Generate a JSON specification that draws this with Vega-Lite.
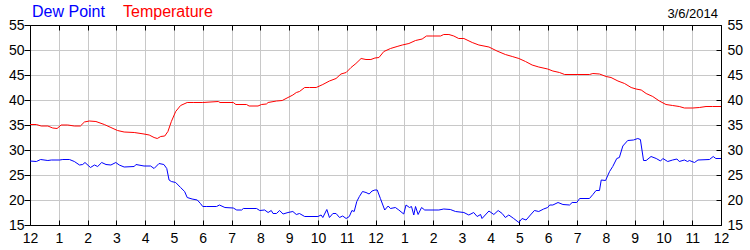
{
  "$schema": "https://vega.github.io/schema/vega-lite/v6.json",
  "autosize": {"type": "none"},
  "width": 691,
  "height": 200,
  "padding": {"left": 30, "top": 25, "right": 29, "bottom": 25},
  "background": "white",
  "config": {
    "view": {"stroke": null},
    "font": "Liberation Sans",
    "axis": {"labelFont": "Liberation Sans", "labelFontSize": 14, "labelColor": "#000000", "domainColor": "#000000", "domainWidth": 1, "tickColor": "#000000", "tickWidth": 1, "gridColor": "#c8c8c8", "gridWidth": 1, "title": null, "labelFlush": false, "labelOverlap": false}
  },
  "title": {"text": "3/6/2014", "anchor": "end", "frame": "group", "font": "Liberation Sans", "fontSize": 13, "fontWeight": "normal", "color": "#000000", "baseline": "alphabetic", "offset": 8, "dx": -3, "dy": 35},
  "datasets": {
    "temp": [
      {"h":0,"v":35.1},{"h":0.22,"v":35.1},{"h":0.39,"v":34.8},{"h":0.62,"v":34.8},{"h":0.79,"v":34.4},{"h":0.94,"v":34.3},{"h":1.08,"v":35.0},{"h":1.31,"v":35.0},{"h":1.54,"v":34.8},{"h":1.75,"v":34.8},{"h":1.89,"v":35.6},{"h":2.06,"v":35.8},{"h":2.29,"v":35.7},{"h":2.58,"v":35.1},{"h":2.81,"v":34.5},{"h":3.04,"v":33.9},{"h":3.27,"v":33.6},{"h":3.62,"v":33.5},{"h":3.96,"v":33.2},{"h":4.14,"v":33.0},{"h":4.31,"v":32.5},{"h":4.42,"v":32.3},{"h":4.54,"v":32.7},{"h":4.68,"v":32.8},{"h":4.79,"v":33.7},{"h":4.91,"v":35.7},{"h":5.06,"v":37.7},{"h":5.23,"v":38.9},{"h":5.46,"v":39.5},{"h":5.69,"v":39.5},{"h":6.0,"v":39.5},{"h":6.54,"v":39.7},{"h":6.6,"v":39.5},{"h":7.06,"v":39.5},{"h":7.15,"v":39.1},{"h":7.52,"v":39.1},{"h":7.61,"v":38.8},{"h":7.92,"v":38.8},{"h":8.04,"v":39.1},{"h":8.21,"v":39.2},{"h":8.27,"v":39.5},{"h":8.56,"v":39.8},{"h":8.76,"v":39.9},{"h":8.96,"v":40.5},{"h":9.13,"v":41.0},{"h":9.25,"v":41.5},{"h":9.36,"v":41.7},{"h":9.54,"v":42.5},{"h":9.71,"v":42.5},{"h":9.94,"v":42.5},{"h":10.17,"v":43.1},{"h":10.4,"v":43.8},{"h":10.63,"v":44.3},{"h":10.8,"v":45.2},{"h":10.98,"v":45.5},{"h":11.15,"v":46.5},{"h":11.32,"v":47.3},{"h":11.5,"v":48.3},{"h":11.67,"v":48.1},{"h":11.84,"v":48.1},{"h":11.98,"v":48.4},{"h":12.12,"v":48.5},{"h":12.29,"v":49.7},{"h":12.52,"v":50.3},{"h":12.75,"v":50.7},{"h":12.93,"v":51.0},{"h":13.16,"v":51.3},{"h":13.39,"v":51.9},{"h":13.62,"v":52.2},{"h":13.77,"v":52.8},{"h":13.97,"v":52.8},{"h":14.26,"v":52.8},{"h":14.37,"v":53.1},{"h":14.55,"v":53.1},{"h":14.72,"v":52.8},{"h":14.89,"v":52.3},{"h":15.07,"v":52.3},{"h":15.36,"v":51.5},{"h":15.59,"v":51.0},{"h":15.94,"v":50.6},{"h":16.22,"v":49.8},{"h":16.51,"v":49.1},{"h":16.75,"v":48.7},{"h":16.98,"v":48.3},{"h":17.21,"v":47.7},{"h":17.44,"v":47.0},{"h":17.67,"v":46.6},{"h":17.98,"v":46.2},{"h":18.16,"v":45.8},{"h":18.39,"v":45.5},{"h":18.57,"v":45.1},{"h":19.43,"v":45.1},{"h":19.55,"v":45.3},{"h":19.78,"v":45.2},{"h":20.01,"v":44.7},{"h":20.18,"v":44.5},{"h":20.42,"v":43.8},{"h":20.65,"v":43.3},{"h":20.88,"v":42.5},{"h":21.05,"v":42.2},{"h":21.23,"v":42.0},{"h":21.4,"v":41.3},{"h":21.63,"v":40.7},{"h":21.86,"v":39.8},{"h":22.09,"v":39.1},{"h":22.32,"v":38.9},{"h":22.55,"v":38.7},{"h":22.73,"v":38.4},{"h":23.02,"v":38.4},{"h":23.25,"v":38.5},{"h":23.48,"v":38.7},{"h":23.71,"v":38.7},{"h":24.0,"v":38.7}
    ],
    "dew": [
      {"h":0,"v":27.8},{"h":0.22,"v":27.7},{"h":0.37,"v":28.1},{"h":0.62,"v":27.9},{"h":0.74,"v":28.0},{"h":1.03,"v":28.0},{"h":1.14,"v":28.1},{"h":1.37,"v":28.1},{"h":1.54,"v":27.7},{"h":1.72,"v":27.0},{"h":1.83,"v":27.1},{"h":1.91,"v":27.5},{"h":2.1,"v":26.5},{"h":2.24,"v":27.0},{"h":2.35,"v":26.7},{"h":2.49,"v":27.5},{"h":2.64,"v":27.1},{"h":2.81,"v":27.0},{"h":2.98,"v":27.5},{"h":3.1,"v":27.0},{"h":3.27,"v":26.6},{"h":3.62,"v":26.7},{"h":3.68,"v":27.1},{"h":3.96,"v":26.8},{"h":4.19,"v":26.8},{"h":4.31,"v":26.3},{"h":4.48,"v":27.3},{"h":4.65,"v":27.1},{"h":4.75,"v":26.3},{"h":4.83,"v":24.0},{"h":4.91,"v":23.7},{"h":5.06,"v":23.5},{"h":5.23,"v":22.5},{"h":5.37,"v":21.7},{"h":5.46,"v":20.5},{"h":5.63,"v":20.2},{"h":5.81,"v":20.0},{"h":5.92,"v":19.3},{"h":6.0,"v":18.7},{"h":6.14,"v":18.7},{"h":6.48,"v":18.7},{"h":6.58,"v":19.0},{"h":6.77,"v":18.5},{"h":7.06,"v":18.4},{"h":7.18,"v":18.0},{"h":7.35,"v":18.0},{"h":7.41,"v":18.3},{"h":7.87,"v":18.3},{"h":7.98,"v":17.9},{"h":8.15,"v":18.0},{"h":8.27,"v":17.5},{"h":8.38,"v":17.9},{"h":8.44,"v":17.3},{"h":8.56,"v":17.3},{"h":8.67,"v":17.9},{"h":8.79,"v":17.2},{"h":8.96,"v":17.5},{"h":9.13,"v":17.7},{"h":9.25,"v":17.1},{"h":9.36,"v":17.3},{"h":9.54,"v":16.7},{"h":10.0,"v":16.7},{"h":10.11,"v":17.0},{"h":10.17,"v":16.5},{"h":10.31,"v":18.1},{"h":10.4,"v":16.5},{"h":10.52,"v":17.3},{"h":10.63,"v":17.3},{"h":10.75,"v":16.5},{"h":10.86,"v":16.8},{"h":10.98,"v":16.3},{"h":11.09,"v":16.7},{"h":11.18,"v":17.9},{"h":11.26,"v":17.7},{"h":11.35,"v":19.7},{"h":11.44,"v":20.7},{"h":11.55,"v":21.7},{"h":11.67,"v":21.5},{"h":11.78,"v":21.2},{"h":11.88,"v":21.8},{"h":11.98,"v":22.0},{"h":12.06,"v":22.0},{"h":12.17,"v":20.3},{"h":12.32,"v":18.0},{"h":12.44,"v":18.8},{"h":12.52,"v":18.3},{"h":12.69,"v":18.5},{"h":12.81,"v":18.0},{"h":12.98,"v":17.2},{"h":13.06,"v":19.0},{"h":13.18,"v":18.5},{"h":13.25,"v":18.7},{"h":13.33,"v":17.0},{"h":13.39,"v":18.7},{"h":13.48,"v":17.1},{"h":13.6,"v":18.5},{"h":13.71,"v":18.0},{"h":14.2,"v":18.0},{"h":14.37,"v":18.2},{"h":14.6,"v":18.1},{"h":14.78,"v":17.7},{"h":15.07,"v":17.5},{"h":15.24,"v":17.0},{"h":15.41,"v":17.5},{"h":15.53,"v":16.7},{"h":15.65,"v":17.1},{"h":15.7,"v":16.3},{"h":15.94,"v":17.8},{"h":16.11,"v":17.1},{"h":16.26,"v":17.9},{"h":16.4,"v":17.3},{"h":16.51,"v":16.5},{"h":16.63,"v":17.0},{"h":16.8,"v":16.3},{"h":16.98,"v":15.5},{"h":17.09,"v":16.3},{"h":17.23,"v":16.0},{"h":17.38,"v":17.0},{"h":17.52,"v":17.9},{"h":17.67,"v":17.7},{"h":17.84,"v":18.2},{"h":17.98,"v":18.5},{"h":18.05,"v":19.0},{"h":18.16,"v":19.0},{"h":18.34,"v":19.5},{"h":18.51,"v":19.1},{"h":18.74,"v":19.0},{"h":18.83,"v":19.5},{"h":18.99,"v":19.5},{"h":19.09,"v":20.3},{"h":19.43,"v":20.3},{"h":19.55,"v":21.1},{"h":19.66,"v":21.9},{"h":19.78,"v":21.9},{"h":19.84,"v":24.0},{"h":19.99,"v":23.9},{"h":20.13,"v":25.7},{"h":20.24,"v":26.7},{"h":20.38,"v":28.3},{"h":20.47,"v":28.5},{"h":20.59,"v":30.8},{"h":20.76,"v":31.9},{"h":20.96,"v":32.0},{"h":21.11,"v":32.3},{"h":21.2,"v":32.1},{"h":21.31,"v":27.9},{"h":21.4,"v":27.9},{"h":21.57,"v":28.7},{"h":21.75,"v":28.3},{"h":21.9,"v":27.8},{"h":21.98,"v":28.3},{"h":22.15,"v":27.7},{"h":22.32,"v":28.0},{"h":22.47,"v":28.2},{"h":22.55,"v":27.7},{"h":22.73,"v":28.0},{"h":22.84,"v":27.7},{"h":22.9,"v":27.9},{"h":23.08,"v":27.5},{"h":23.2,"v":28.0},{"h":23.6,"v":28.1},{"h":23.73,"v":28.7},{"h":23.82,"v":28.3},{"h":24.0,"v":28.3}
    ]
  },
  "layer": [
    {
      "data": {"name": "temp"},
      "mark": {"type": "line", "strokeWidth": 1, "interpolate": "linear"},
      "encoding": {
        "x": {"field": "h", "type": "quantitative", "scale": {"domain": [0, 24], "nice": false, "zero": false},
              "axis": {"orient": "bottom", "values": [0,1,2,3,4,5,6,7,8,9,10,11,12,13,14,15,16,17,18,19,20,21,22,23,24], "labelExpr": "datum.value % 12 == 0 ? '12' : '' + (datum.value % 12)", "grid": true, "tickSize": -5, "labelPadding": 11}},
        "y": {"field": "v", "type": "quantitative", "scale": {"domain": [15, 55], "nice": false, "zero": false},
              "axis": {"orient": "left", "values": [15,20,25,30,35,40,45,50,55], "grid": true, "tickSize": 6, "labelPadding": 0}},
        "color": {"datum": "Temperature", "type": "nominal",
                  "scale": {"domain": ["Dew Point", "Temperature"], "range": ["#0000ff", "#ff0000"]},
                  "legend": {"orient": "none", "legendX": -14, "legendY": -21, "direction": "horizontal", "title": null, "padding": 0, "symbolSize": 0, "symbolStrokeWidth": 0, "symbolOpacity": 0, "labelOffset": 0, "columnPadding": 2, "labelFont": "Liberation Sans", "labelFontSize": 16, "labelLimit": 0, "labelColor": {"expr": "datum.value == 'Dew Point' ? '#0000ff' : '#ff0000'"}}}
      }
    },
    {
      "data": {"name": "dew"},
      "mark": {"type": "line", "strokeWidth": 1, "interpolate": "linear"},
      "encoding": {
        "x": {"field": "h", "type": "quantitative",
              "axis": {"orient": "top", "values": [0,1,2,3,4,5,6,7,8,9,10,11,12,13,14,15,16,17,18,19,20,21,22,23,24], "labels": false, "grid": false, "tickSize": -5}},
        "y": {"field": "v", "type": "quantitative",
              "axis": {"orient": "right", "values": [15,20,25,30,35,40,45,50,55], "grid": false, "tickSize": -5, "labelPadding": 11}},
        "color": {"datum": "Dew Point", "type": "nominal"}
      }
    }
  ],
  "resolve": {"axis": {"x": "independent", "y": "independent"}}
}
